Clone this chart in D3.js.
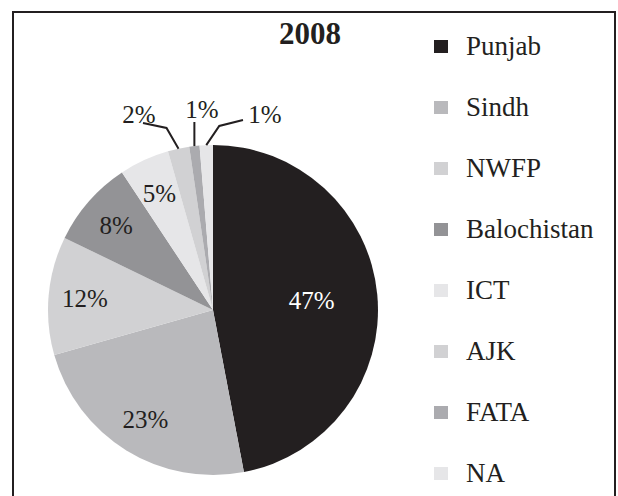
<!DOCTYPE html>
<html>
<head>
<meta charset="utf-8">
<script src="https://cdn.jsdelivr.net/npm/d3@7"></script>
<style>
  html, body { margin: 0; padding: 0; background: #fff; }
  svg { display: block; }
</style>
</head>
<body>
<svg id="chart" width="618" height="496"></svg>
<script>
// data (share of total, %)
const title = "2008";
const regions = ["Punjab", "Sindh", "NWFP", "Balochistan", "ICT", "AJK", "FATA", "NA"];
const shares = [47.0, 23.6, 11.6, 8.5, 4.9, 2.1, 1.0, 1.3];
const labels = ["47%", "23%", "12%", "8%", "5%", "2%", "1%", "1%"];
const colors = ["#231f20", "#b9b9bc", "#d1d1d3", "#939396", "#e6e6e8", "#d1d1d3", "#ababaf", "#e6e6e8"];

const svg = d3.select("#chart");
const font = "'Liberation Serif', 'Times New Roman', serif";

// outer frame (bottom edge runs off the picture)
svg.append("rect")
    .attr("x", 13).attr("y", 12)
    .attr("width", 602).attr("height", 520)
    .attr("fill", "none")
    .attr("stroke", "#231f20")
    .attr("stroke-width", 2);

const cx = 213, cy = 310, R = 165;
const g = svg.append("g").attr("transform", `translate(${cx},${cy})`);

const data = regions.map((r, i) => ({ region: r, value: shares[i], label: labels[i], color: colors[i] }));

const pie = d3.pie().value(d => d.value).sort(null);
const arcs = pie(data);
const arc = d3.arc().innerRadius(0).outerRadius(R);

g.selectAll("path")
    .data(arcs)
    .enter().append("path")
    .attr("d", arc)
    .attr("fill", d => d.data.color);

// labels inside the bigger slices
const bigArc = d3.arc().innerRadius(R * 0.6).outerRadius(R * 0.6);
const midArc = d3.arc().innerRadius(R * 0.78).outerRadius(R * 0.78);
const inside = arcs.filter(d => d.data.value >= 3);

g.selectAll("text.inner")
    .data(inside)
    .enter().append("text")
    .attr("class", "inner")
    .attr("transform", d => {
        const c = (d.data.value > 40 ? bigArc : midArc).centroid(d);
        return `translate(${c[0]},${c[1]})`;
    })
    .attr("dy", "0.35em")
    .attr("text-anchor", "middle")
    .attr("font-family", font)
    .attr("font-size", 25)
    .attr("fill", d => d.data.value > 40 ? "#ffffff" : "#231f20")
    .text(d => d.data.label);

// callouts for the thin slices at the top
const small = arcs.filter(d => d.data.value < 3);
const edgeArc = d3.arc().innerRadius(R).outerRadius(R);

small.forEach((d, k) => {
    const side = k - 1;                 // -1 left, 0 middle, 1 right
    const e = edgeArc.centroid(d);
    const lx = side * 63 - 11;          // label centre, relative to pie centre
    const base = -R - 27 + Math.abs(side) * 5;
    let pts;
    if (side === 0) {
        pts = [e, [e[0], base + 4]];
    } else if (side < 0) {
        pts = [e, [e[0] - 12, -R - 17], [lx + 4, base]];
    } else {
        pts = [e, [e[0] + 13, -R - 19], [lx - 22, base - 3]];
    }
    g.append("path")
        .attr("d", d3.line()(pts))
        .attr("fill", "none")
        .attr("stroke", "#231f20")
        .attr("stroke-width", 2);
    g.append("text")
        .attr("x", lx).attr("y", base)
        .attr("text-anchor", "middle")
        .attr("font-family", font)
        .attr("font-size", 25)
        .attr("fill", "#231f20")
        .text(d.data.label);
});

// title
svg.append("text")
    .attr("x", 310).attr("y", 44)
    .attr("text-anchor", "middle")
    .attr("font-family", font)
    .attr("font-weight", "bold")
    .attr("font-size", 31)
    .attr("fill", "#231f20")
    .text(title);

// legend
const legend = svg.append("g")
    .selectAll("g")
    .data(data)
    .enter().append("g")
    .attr("transform", (d, i) => `translate(434,${55 + i * 61})`);

legend.append("rect")
    .attr("x", 0).attr("y", -15)
    .attr("width", 14).attr("height", 13)
    .attr("fill", d => d.color);

legend.append("text")
    .attr("x", 32).attr("y", 0)
    .attr("font-family", font)
    .attr("font-size", 27)
    .attr("fill", "#231f20")
    .text(d => d.region);
</script>
</body>
</html>
